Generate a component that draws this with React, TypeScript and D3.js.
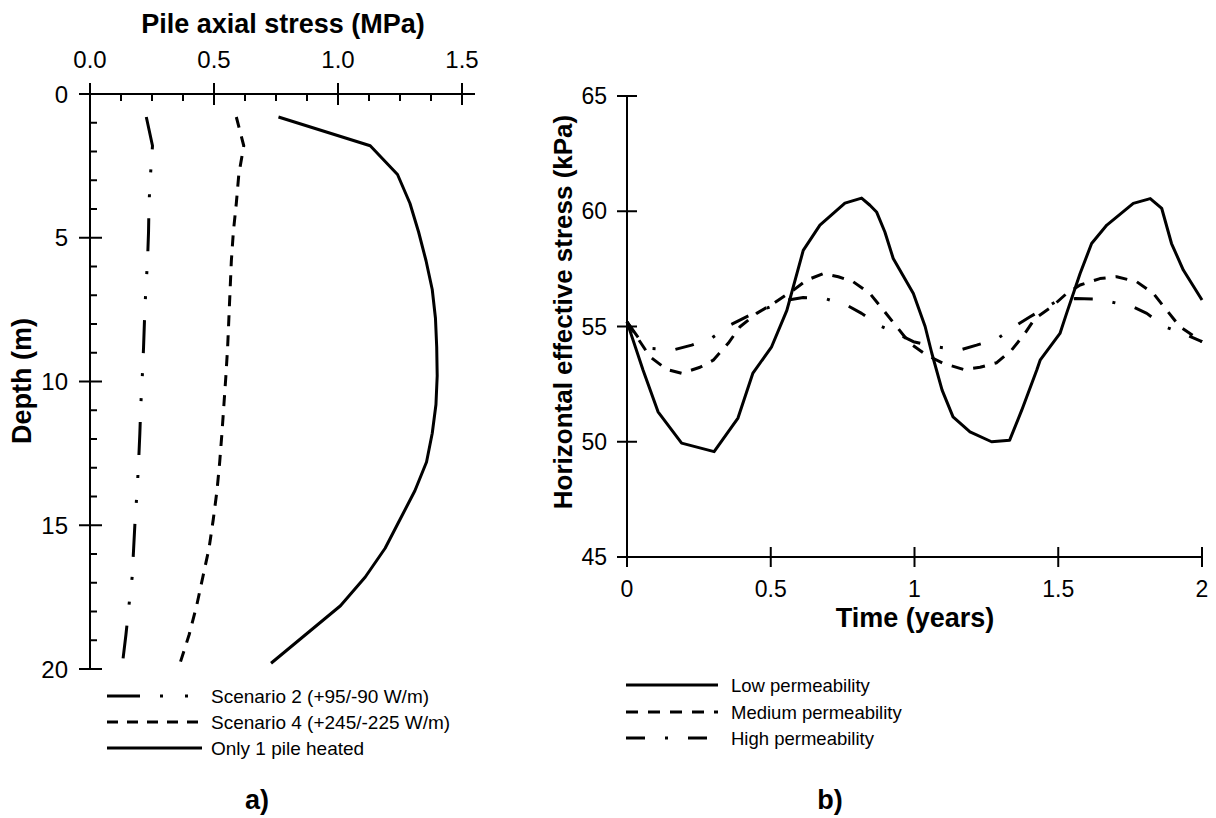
import React from "react";
import * as d3 from "d3";

// ---------- Panel a) data ----------
const depths = [0.8, 1.8, 2.8, 3.8, 4.8, 5.8, 6.8, 7.8, 8.8, 9.8, 10.8, 11.8, 12.8, 13.8, 14.8, 15.8, 16.8, 17.8, 18.8, 19.8];
const scenario2 = [0.227, 0.252, 0.244, 0.238, 0.236, 0.232, 0.225, 0.22, 0.216, 0.211, 0.205, 0.201, 0.196, 0.19, 0.182, 0.176, 0.17, 0.157, 0.145, 0.131];
const scenario4 = [0.59, 0.62, 0.6, 0.59, 0.578, 0.57, 0.565, 0.56, 0.555, 0.548, 0.54, 0.532, 0.523, 0.512, 0.497, 0.48, 0.455, 0.43, 0.4, 0.363];
const onePile = [0.76, 1.13, 1.24, 1.29, 1.325, 1.355, 1.38, 1.393, 1.398, 1.4, 1.395, 1.38, 1.357, 1.31, 1.25, 1.19, 1.11, 1.01, 0.87, 0.73];
const stressTicks = [0, 0.5, 1.0, 1.5];
const depthTicks = [0, 5, 10, 15, 20];

// ---------- Panel b) data ----------
const lowT = [0, 0.056, 0.108, 0.19, 0.303, 0.386, 0.438, 0.503, 0.556, 0.613, 0.671, 0.758, 0.816, 0.845, 0.868, 0.897, 0.926, 0.996, 1.037, 1.06, 1.096, 1.134, 1.193, 1.268, 1.331, 1.373, 1.425, 1.437, 1.506, 1.529, 1.576, 1.616, 1.669, 1.761, 1.82, 1.86, 1.894, 1.935, 2.0];
const lowV = [55.2, 53.1, 51.3, 49.94, 49.57, 51.03, 52.98, 54.12, 55.7, 58.3, 59.4, 60.35, 60.57, 60.26, 59.97, 59.1, 57.95, 56.43, 55.0, 53.85, 52.24, 51.08, 50.43, 50.0, 50.07, 51.37, 53.1, 53.54, 54.7, 55.57, 57.3, 58.6, 59.4, 60.34, 60.55, 60.12, 58.6, 57.45, 56.15];
const medT = [0, 0.034, 0.08, 0.138, 0.19, 0.254, 0.3, 0.352, 0.393, 0.451, 0.509, 0.579, 0.625, 0.683, 0.735, 0.787, 0.845, 0.892, 0.938, 0.984, 1.042, 1.1, 1.17, 1.228, 1.286, 1.338, 1.384, 1.419, 1.477, 1.529, 1.576, 1.645, 1.703, 1.773, 1.831, 1.877, 1.923, 2.0];
const medV = [55.2, 54.55, 53.69, 53.14, 52.97, 53.23, 53.54, 54.27, 54.99, 55.57, 56.0, 56.58, 57.01, 57.3, 57.16, 56.94, 56.43, 55.71, 54.99, 54.27, 53.76, 53.4, 53.14, 53.23, 53.43, 53.98, 54.7, 55.35, 55.85, 56.43, 56.8, 57.08, 57.16, 56.94, 56.43, 55.71, 54.99, 54.34];
const highT = [0, 0.066, 0.16, 0.225, 0.295, 0.358, 0.44, 0.556, 0.613, 0.689, 0.764, 0.816, 0.874, 0.95, 0.996, 1.077, 1.158, 1.216, 1.289, 1.355, 1.402, 1.5, 1.56, 1.64, 1.76, 1.808, 1.871, 1.946, 2.0];
const highV = [55.2, 54.06, 53.98, 54.19, 54.5, 55.06, 55.57, 56.14, 56.26, 56.21, 55.93, 55.57, 55.06, 54.63, 54.34, 54.12, 53.98, 54.19, 54.48, 55.06, 55.42, 56.14, 56.21, 56.19, 55.85, 55.57, 54.99, 54.63, 54.34];
const timeTicks = [0, 0.5, 1, 1.5, 2];
const timeTickLabels = ["0", "0.5", "1", "1.5", "2"];
const stressBTicks = [45, 50, 55, 60, 65];

const FONT = "'Liberation Sans', Arial, Helvetica, sans-serif";

const DASH_S2 = "33,20,3,22,3,21";
const DASH_S4 = "11,9";
const DASH_MED = "12,10";
const DASH_HIGH = "19,20,3,20";

export default function App() {
  // Panel a scales
  const xA = d3.scaleLinear().domain([0, 1.5]).range([90, 462]);
  const yA = d3.scaleLinear().domain([0, 20]).range([94, 669]);
  const lineA = (vals: number[]) =>
    d3.line<number>().x((v) => xA(v)).y((_, i) => yA(depths[i]))(vals) || "";
  const minorX = d3.range(0, 1.5001, 0.125).filter((v) => Math.abs(v * 2 - Math.round(v * 2)) > 1e-6);
  const minorY = d3.range(0, 20.001, 1).filter((v) => v % 5 !== 0);

  // Panel b scales
  const xB = d3.scaleLinear().domain([0, 2]).range([627, 1202]);
  const yB = d3.scaleLinear().domain([45, 65]).range([557, 96]);
  const lineB = (ts: number[], vs: number[]) =>
    d3.line<number>().x((t) => xB(t)).y((_, i) => yB(vs[i]))(ts) || "";

  const axisStroke = { stroke: "#000", strokeWidth: 2, fill: "none" };
  const dataStroke = { stroke: "#000", strokeWidth: 3, fill: "none", strokeLinejoin: "round" as const };

  const legA = [
    { label: "Scenario 2 (+95/-90 W/m)", dash: DASH_S2, y: 696, x2: 190 },
    { label: "Scenario 4 (+245/-225 W/m)", dash: DASH_S4, y: 722, x2: 198 },
    { label: "Only 1 pile heated", dash: undefined, y: 748, x2: 202 },
  ];
  const legB = [
    { label: "Low permeability", dash: undefined, y: 685, x2: 718 },
    { label: "Medium permeability", dash: DASH_MED, y: 712, x2: 718 },
    { label: "High permeability", dash: DASH_HIGH, y: 738, x2: 707 },
  ];

  return (
    <svg
      width={1216}
      height={818}
      style={{ position: "absolute", left: 0, top: 0, background: "#fff" }}
      fontFamily={FONT}
    >
      <rect x={0} y={0} width={1216} height={818} fill="#fff" />

      {/* ===== Panel a ===== */}
      <text x={283} y={33} textAnchor="middle" fontSize={27} fontWeight="bold">
        Pile axial stress (MPa)
      </text>
      <line x1={xA(0)} x2={475} y1={yA(0)} y2={yA(0)} {...axisStroke} />
      {stressTicks.map((t) => (
        <g key={"xa" + t}>
          <line x1={xA(t)} x2={xA(t)} y1={yA(0) - 11} y2={yA(0) + 11} {...axisStroke} />
          <text x={xA(t)} y={68} textAnchor="middle" fontSize={24}>
            {t.toFixed(1)}
          </text>
        </g>
      ))}
      {minorX.map((t) => (
        <line key={"mxa" + t} x1={xA(t)} x2={xA(t)} y1={yA(0)} y2={yA(0) + 7} {...axisStroke} />
      ))}
      <line x1={xA(0)} x2={xA(0)} y1={yA(0) - 11} y2={yA(20)} {...axisStroke} />
      {depthTicks.map((d) => (
        <g key={"ya" + d}>
          <line x1={xA(0) - 11} x2={xA(0) + 12} y1={yA(d)} y2={yA(d)} {...axisStroke} />
          <text x={68} y={yA(d) + 8.5} textAnchor="end" fontSize={24}>
            {d}
          </text>
        </g>
      ))}
      {minorY.map((d) => (
        <line key={"mya" + d} x1={xA(0)} x2={xA(0) + 7} y1={yA(d)} y2={yA(d)} {...axisStroke} />
      ))}
      <text transform="translate(31,381) rotate(-90)" textAnchor="middle" fontSize={27} fontWeight="bold">
        Depth (m)
      </text>
      <path d={lineA(scenario2)} {...dataStroke} strokeDasharray={DASH_S2} />
      <path d={lineA(scenario4)} {...dataStroke} strokeDasharray={DASH_S4} />
      <path d={lineA(onePile)} {...dataStroke} />
      {legA.map((l) => (
        <g key={l.label}>
          <line x1={107} x2={l.x2} y1={l.y} y2={l.y} stroke="#000" strokeWidth={3} strokeDasharray={l.dash} />
          <text x={211} y={l.y + 7} fontSize={19}>
            {l.label}
          </text>
        </g>
      ))}
      <text x={257} y={809} textAnchor="middle" fontSize={27} fontWeight="bold">
        a)
      </text>

      {/* ===== Panel b ===== */}
      <line x1={xB(0)} x2={xB(0)} y1={yB(65)} y2={yB(45)} {...axisStroke} />
      {stressBTicks.map((v) => (
        <g key={"yb" + v}>
          <line x1={xB(0) - 10} x2={xB(0) + 10} y1={yB(v)} y2={yB(v)} {...axisStroke} />
          <text x={607} y={yB(v) + 8} textAnchor="end" fontSize={23}>
            {v}
          </text>
        </g>
      ))}
      <line x1={xB(0) - 10} x2={xB(2)} y1={yB(45)} y2={yB(45)} {...axisStroke} />
      {timeTicks.map((t, i) => (
        <g key={"xb" + t}>
          <line x1={xB(t)} x2={xB(t)} y1={yB(45) - 10} y2={yB(45) + 10} {...axisStroke} />
          <text x={xB(t)} y={597} textAnchor="middle" fontSize={23}>
            {timeTickLabels[i]}
          </text>
        </g>
      ))}
      <text x={915} y={627} textAnchor="middle" fontSize={27} fontWeight="bold">
        Time (years)
      </text>
      <text transform="translate(572,312) rotate(-90)" textAnchor="middle" fontSize={26} fontWeight="bold">
        Horizontal effective stress (kPa)
      </text>
      <path d={lineB(highT, highV)} {...dataStroke} strokeDasharray={DASH_HIGH} />
      <path d={lineB(medT, medV)} {...dataStroke} strokeDasharray={DASH_MED} />
      <path d={lineB(lowT, lowV)} {...dataStroke} />
      {legB.map((l) => (
        <g key={l.label}>
          <line x1={626} x2={l.x2} y1={l.y} y2={l.y} stroke="#000" strokeWidth={3} strokeDasharray={l.dash} />
          <text x={731} y={l.y + 7} fontSize={18.5}>
            {l.label}
          </text>
        </g>
      ))}
      <text x={830} y={809} textAnchor="middle" fontSize={27} fontWeight="bold">
        b)
      </text>
    </svg>
  );
}
